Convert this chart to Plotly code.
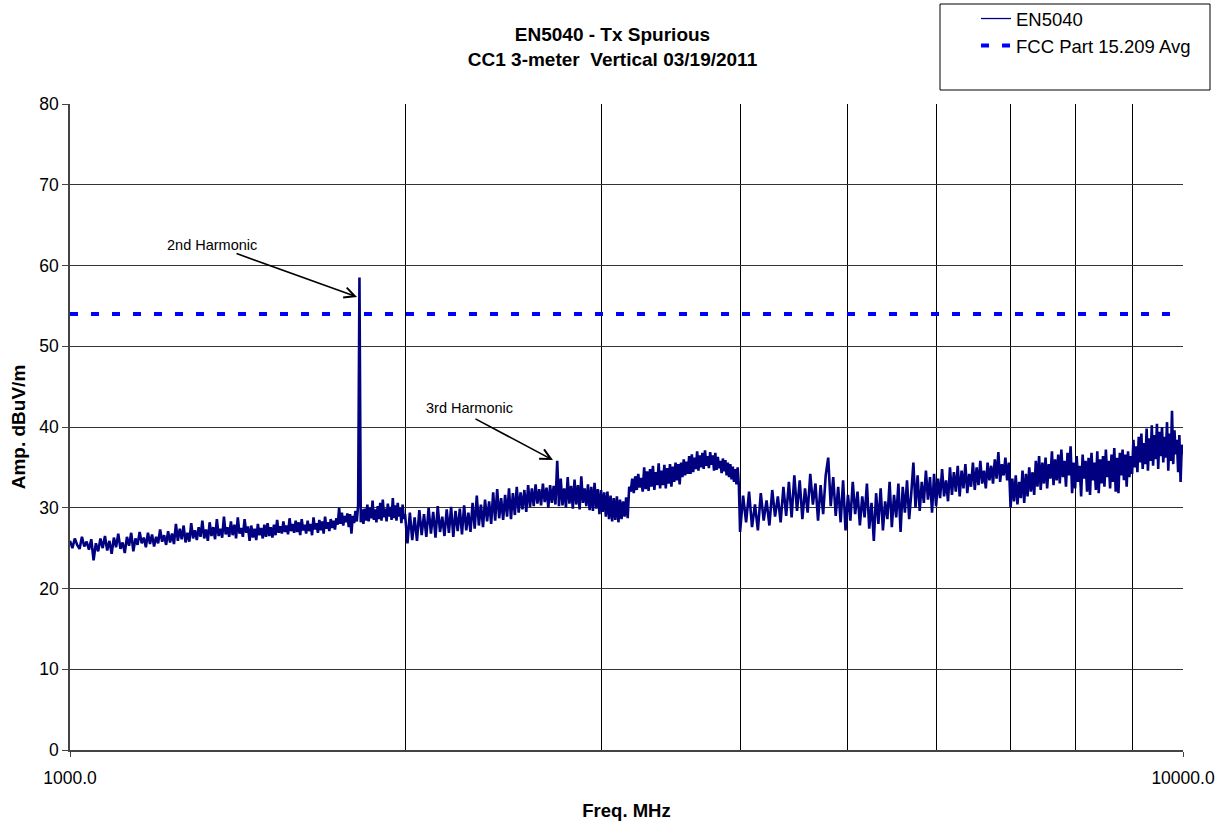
import math
import plotly.graph_objects as go

# ---------------- data ----------------
# Sweep 1: 1000 - 2000 MHz, 5 MHz steps
FREQ_A = [1000, 1005, 1010, 1015, 1020, 1025, 1030, 1035, 1040, 1045,
          1050, 1055, 1060, 1065, 1070, 1075, 1080, 1085, 1090, 1095,
          1100, 1105, 1110, 1115, 1120, 1125, 1130, 1135, 1140, 1145,
          1150, 1155, 1160, 1165, 1170, 1175, 1180, 1185, 1190, 1195,
          1200, 1205, 1210, 1215, 1220, 1225, 1230, 1235, 1240, 1245,
          1250, 1255, 1260, 1265, 1270, 1275, 1280, 1285, 1290, 1295,
          1300, 1305, 1310, 1315, 1320, 1325, 1330, 1335, 1340, 1345,
          1350, 1355, 1360, 1365, 1370, 1375, 1380, 1385, 1390, 1395,
          1400, 1405, 1410, 1415, 1420, 1425, 1430, 1435, 1440, 1445,
          1450, 1455, 1460, 1465, 1470, 1475, 1480, 1485, 1490, 1495,
          1500, 1505, 1510, 1515, 1520, 1525, 1530, 1535, 1540, 1545,
          1550, 1555, 1560, 1565, 1570, 1575, 1580, 1585, 1590, 1595,
          1600, 1605, 1610, 1615, 1620, 1625, 1630, 1635, 1640, 1645,
          1650, 1655, 1660, 1665, 1670, 1675, 1680, 1685, 1690, 1695,
          1700, 1705, 1710, 1715, 1720, 1725, 1730, 1735, 1740, 1745,
          1750, 1755, 1760, 1765, 1770, 1775, 1780, 1785, 1790, 1795,
          1800, 1805, 1810, 1815, 1820, 1825, 1830, 1835, 1840, 1845,
          1850, 1855, 1860, 1865, 1870, 1875, 1880, 1885, 1890, 1895,
          1900, 1905, 1910, 1915, 1920, 1925, 1930, 1935, 1940, 1945,
          1950, 1955, 1960, 1965, 1970, 1975, 1980, 1985, 1990, 1995,
          2000]
AMP_A = [25.9, 25.0, 26.2, 25.4, 24.9, 26.4, 25.2, 25.8, 24.8, 26.1,
         23.5, 25.6, 24.6, 26.2, 25.0, 26.5, 24.7, 25.9, 24.3, 26.3,
         25.1, 26.8, 24.9, 25.7, 24.4, 26.4, 25.3, 26.9, 24.6, 26.2,
         25.4, 27.0, 25.6, 26.3, 25.1, 26.9, 25.5, 26.7, 25.2, 26.4,
         25.6, 27.3, 25.8, 26.6, 25.4, 27.1, 25.7, 26.8, 25.5, 28.0,
         25.9, 27.4, 26.1, 27.8, 25.7, 26.9, 25.8, 28.1, 26.2, 27.2,
         26.0, 27.6, 26.4, 28.4, 26.2, 27.3, 25.9, 28.2, 26.5, 27.6,
         26.1, 28.6, 26.5, 27.4, 26.3, 28.9, 26.7, 27.6, 26.4, 28.3,
         26.6, 27.9, 26.2, 28.8, 26.8, 27.5, 26.4, 28.6, 26.9, 27.7,
         25.9, 27.8, 26.3, 27.4, 26.0, 28.0, 26.6, 27.5, 26.2, 27.9,
         26.4, 28.1, 26.5, 27.6, 26.3, 27.9, 26.6, 28.5, 26.9, 27.7,
         26.8, 28.3, 27.0, 27.8, 26.7, 28.7, 27.1, 28.0, 26.9, 28.4,
         27.0, 28.2, 26.6, 28.6, 27.2, 27.9, 26.8, 28.4, 27.1, 28.0,
         26.6, 28.8, 27.3, 28.1, 26.9, 28.5, 27.2, 28.3, 26.8, 28.9,
         27.4, 28.2, 27.1, 28.6, 27.5, 28.4, 27.3, 28.7, 27.9, 30.0,
         28.0, 29.4, 27.8, 29.0, 28.2, 29.3, 27.6, 29.2, 26.8, 29.0,
         28.1, 29.6, 28.3, 30.3, 58.5, 28.2, 29.8, 28.0, 29.9, 28.4,
         30.4, 28.3, 30.0, 28.7, 30.9, 28.5, 29.8, 28.2, 30.2, 28.6,
         30.6, 28.4, 31.0, 28.8, 29.9, 28.3, 30.5, 28.9, 30.1, 28.5,
         31.2, 28.7, 30.3, 28.4, 30.6, 28.9, 30.0, 28.1, 30.4, 28.6,
         29.2]

# Sweep 2: 2010 - 3990 MHz, 10 MHz steps
FREQ_B = [2010, 2020, 2030, 2040, 2050, 2060, 2070, 2080, 2090, 2100,
          2110, 2120, 2130, 2140, 2150, 2160, 2170, 2180, 2190, 2200,
          2210, 2220, 2230, 2240, 2250, 2260, 2270, 2280, 2290, 2300,
          2310, 2320, 2330, 2340, 2350, 2360, 2370, 2380, 2390, 2400,
          2410, 2420, 2430, 2440, 2450, 2460, 2470, 2480, 2490, 2500,
          2510, 2520, 2530, 2540, 2550, 2560, 2570, 2580, 2590, 2600,
          2610, 2620, 2630, 2640, 2650, 2660, 2670, 2680, 2690, 2700,
          2710, 2720, 2730, 2740, 2750, 2760, 2770, 2780, 2790, 2800,
          2810, 2820, 2830, 2840, 2850, 2860, 2870, 2880, 2890, 2900,
          2910, 2920, 2930, 2940, 2950, 2960, 2970, 2980, 2990, 3000,
          3010, 3020, 3030, 3040, 3050, 3060, 3070, 3080, 3090, 3100,
          3110, 3120, 3130, 3140, 3150, 3160, 3170, 3180, 3190, 3200,
          3210, 3220, 3230, 3240, 3250, 3260, 3270, 3280, 3290, 3300,
          3310, 3320, 3330, 3340, 3350, 3360, 3370, 3380, 3390, 3400,
          3410, 3420, 3430, 3440, 3450, 3460, 3470, 3480, 3490, 3500,
          3510, 3520, 3530, 3540, 3550, 3560, 3570, 3580, 3590, 3600,
          3610, 3620, 3630, 3640, 3650, 3660, 3670, 3680, 3690, 3700,
          3710, 3720, 3730, 3740, 3750, 3760, 3770, 3780, 3790, 3800,
          3810, 3820, 3830, 3840, 3850, 3860, 3870, 3880, 3890, 3900,
          3910, 3920, 3930, 3940, 3950, 3960, 3970, 3980, 3990]
AMP_B = [25.6, 29.4, 26.0, 28.8, 25.9, 29.7, 26.6, 29.2, 26.4, 30.0,
         26.8, 29.5, 26.3, 30.2, 27.0, 28.9, 26.5, 29.8, 26.9, 30.1,
         26.4, 29.6, 27.1, 29.9, 26.7, 30.3, 27.2, 29.4, 27.0, 30.6,
         27.4, 31.5, 27.8, 30.4, 27.6, 31.0, 28.3, 30.8, 28.0, 31.9,
         28.4, 32.3, 28.7, 31.2, 28.5, 31.6, 28.9, 32.4, 28.6, 31.8,
         29.1, 32.6, 29.4, 31.9, 29.8, 32.2, 29.5, 32.8, 30.1, 32.4,
         30.2, 32.9, 30.5, 32.3, 30.3, 33.0, 30.7, 32.5, 30.0, 32.8,
         30.6, 32.7, 30.4, 35.8, 30.2, 33.6, 30.3, 32.4, 30.0, 33.8,
         30.5, 32.7, 29.9, 33.5, 30.4, 32.8, 29.8, 33.9, 30.6, 32.4,
         30.2, 32.9, 29.7, 32.6, 29.6, 33.1, 29.9, 32.3, 29.2, 32.2,
         29.5, 31.9, 28.9, 32.0, 28.6, 31.5, 28.3, 31.2, 28.5, 31.4,
         28.2, 31.0, 28.6, 30.8, 28.9, 31.3, 28.7, 32.6, 32.0, 33.6,
         31.8, 33.9, 32.2, 34.2, 32.5, 33.7, 32.0, 35.0, 32.3, 34.5,
         32.1, 34.8, 32.6, 35.2, 32.2, 34.4, 32.8, 35.5, 32.4, 34.6,
         32.8, 35.3, 32.4, 34.9, 33.0, 35.4, 32.6, 35.1, 33.2, 35.6,
         33.4, 35.4, 32.9, 35.6, 33.8, 36.0, 34.0, 35.7, 34.2, 36.4,
         34.2, 36.6, 34.4, 36.2, 34.8, 37.0, 34.6, 36.5, 35.0, 36.8,
         34.8, 37.1, 35.2, 36.4, 34.9, 36.9, 35.3, 36.5, 34.6, 36.8,
         34.7, 36.3, 34.9, 35.8, 34.3, 36.1, 34.5, 35.9, 34.0, 35.6,
         33.8, 35.4, 33.5, 35.1, 33.2, 34.8, 32.9, 35.0, 32.7]

# Sweep 3: 4000 - 10000 MHz, 25 MHz steps
FREQ_C = [4000, 4025, 4050, 4075, 4100, 4125, 4150, 4175, 4200, 4225,
          4250, 4275, 4300, 4325, 4350, 4375, 4400, 4425, 4450, 4475,
          4500, 4525, 4550, 4575, 4600, 4625, 4650, 4675, 4700, 4725,
          4750, 4775, 4800, 4825, 4850, 4875, 4900, 4925, 4950, 4975,
          5000, 5025, 5050, 5075, 5100, 5125, 5150, 5175, 5200, 5225,
          5250, 5275, 5300, 5325, 5350, 5375, 5400, 5425, 5450, 5475,
          5500, 5525, 5550, 5575, 5600, 5625, 5650, 5675, 5700, 5725,
          5750, 5775, 5800, 5825, 5850, 5875, 5900, 5925, 5950, 5975,
          6000, 6025, 6050, 6075, 6100, 6125, 6150, 6175, 6200, 6225,
          6250, 6275, 6300, 6325, 6350, 6375, 6400, 6425, 6450, 6475,
          6500, 6525, 6550, 6575, 6600, 6625, 6650, 6675, 6700, 6725,
          6750, 6775, 6800, 6825, 6850, 6875, 6900, 6925, 6950, 6975,
          7000, 7025, 7050, 7075, 7100, 7125, 7150, 7175, 7200, 7225,
          7250, 7275, 7300, 7325, 7350, 7375, 7400, 7425, 7450, 7475,
          7500, 7525, 7550, 7575, 7600, 7625, 7650, 7675, 7700, 7725,
          7750, 7775, 7800, 7825, 7850, 7875, 7900, 7925, 7950, 7975,
          8000, 8025, 8050, 8075, 8100, 8125, 8150, 8175, 8200, 8225,
          8250, 8275, 8300, 8325, 8350, 8375, 8400, 8425, 8450, 8475,
          8500, 8525, 8550, 8575, 8600, 8625, 8650, 8675, 8700, 8725,
          8750, 8775, 8800, 8825, 8850, 8875, 8900, 8925, 8950, 8975,
          9000, 9025, 9050, 9075, 9100, 9125, 9150, 9175, 9200, 9225,
          9250, 9275, 9300, 9325, 9350, 9375, 9400, 9425, 9450, 9475,
          9500, 9525, 9550, 9575, 9600, 9625, 9650, 9675, 9700, 9725,
          9750, 9775, 9800, 9825, 9850, 9875, 9900, 9925, 9950, 9975,
          10000]
AMP_C = [27.0, 31.5, 28.2, 32.0, 27.6, 30.4, 27.2, 31.8, 28.4, 30.9,
         27.8, 32.2, 28.9, 31.4, 28.2, 32.6, 29.0, 33.2, 28.8, 34.0,
         29.6, 33.4, 28.6, 32.4, 29.4, 34.2, 30.4, 33.0, 28.4, 32.8,
         29.2, 34.0, 36.2, 30.2, 33.8, 29.0, 32.6, 28.2, 33.4, 27.2,
         31.6, 28.4, 33.2, 29.2, 32.0, 27.8, 31.4, 28.8, 33.0, 27.4,
         30.6, 25.9, 31.8, 28.0, 32.4, 27.2, 30.8, 28.6, 33.2, 27.6,
         31.6, 28.8, 33.0, 27.0, 32.6, 29.4, 33.4, 28.6, 31.8, 35.6,
         30.0, 34.0, 29.6, 33.2, 30.6, 34.6, 31.0, 33.8, 29.4, 34.2,
         30.2, 33.6, 31.2, 34.8, 31.4, 33.4, 30.8, 35.0, 31.6, 34.4,
         32.0, 35.2, 31.4, 34.6, 32.4, 35.4, 31.8, 34.2, 32.6, 35.6,
         32.2, 35.0, 32.8, 35.8, 33.0, 34.6, 32.4, 35.6, 33.4, 35.2,
         33.0, 36.0, 33.6, 36.9, 33.2, 35.4, 34.0, 36.2, 33.4, 35.6,
         30.0, 33.6, 30.8, 34.0, 30.4, 33.2, 31.2, 34.6, 30.6, 34.2,
         31.4, 35.0, 32.0, 34.4, 31.6, 35.8, 32.6, 36.4, 32.2, 35.6,
         33.0, 36.2, 32.4, 35.4, 33.6, 37.0, 32.8, 36.0, 33.4, 36.6,
         33.0, 37.2, 33.8, 35.8, 32.6, 36.8, 34.0, 37.6, 31.8, 35.6,
         32.4, 36.4, 33.2, 35.2, 31.4, 36.6, 33.6, 35.8, 32.0, 36.2,
         31.6, 36.8, 33.4, 35.6, 32.2, 37.0, 31.8, 36.0, 33.0, 36.4,
         32.6, 37.2, 33.8, 35.8, 32.4, 36.6, 33.2, 37.4, 32.0, 36.2,
         31.8, 36.8, 34.0, 37.2, 33.4, 36.6, 32.6, 37.0, 33.8, 36.4,
         34.2, 38.4, 35.0, 37.6, 34.4, 38.8, 35.6, 39.2, 34.8, 38.0,
         35.4, 39.8, 34.6, 38.6, 35.8, 40.2, 35.2, 39.0, 36.0, 40.4,
         34.8, 39.4, 36.4, 40.0, 35.6, 38.8, 36.2, 40.6, 34.6, 39.2,
         35.8, 42.0, 35.4, 39.6, 36.6, 38.4, 34.4, 39.0, 33.2, 37.8,
         36.6]

LIMIT_FREQ = [1000, 10000]
LIMIT_AMP = [54, 54]

GRID_FREQS = [2000, 3000, 4000, 5000, 6000, 7000, 8000, 9000]
X_TICKS = [1000, 10000]
X_TICK_TEXT = ["1000.0", "10000.0"]
Y_TICKS = [0, 10, 20, 30, 40, 50, 60, 70, 80]

TITLE = "EN5040 - Tx Spurious<br>CC1 3-meter  Vertical 03/19/2011"
SERIES_NAME = "EN5040"
LIMIT_NAME = "FCC Part 15.209 Avg"

# annotation anchors: (label, label freq, label amp), (arrow head freq, arrow head amp)
HARM2_LABEL = ("2nd Harmonic", 1341, 62.5)
HARM2_HEAD = (1811, 56.1)
HARM3_LABEL = ("3rd Harmonic", 2283, 42.35)
HARM3_HEAD = (2716, 35.9)

# ---------------- figure ----------------
freq = FREQ_A + FREQ_B + FREQ_C
amp = AMP_A + AMP_B + AMP_C

FONT = "Liberation Sans, Arial, sans-serif"
W, H = 1225, 821
NAVY = "#000080"

fig = go.Figure()
fig.add_trace(go.Scatter(x=freq, y=amp, mode="lines", name=SERIES_NAME,
                         showlegend=False, legendgroup="s",
                         line=dict(color=NAVY, width=2.6)))
# legend entry for the measured series (thin line sample like the reference)
fig.add_trace(go.Scatter(x=[None], y=[None], mode="lines", name=SERIES_NAME,
                         legendgroup="s", line=dict(color=NAVY, width=1.3)))
fig.add_trace(go.Scatter(x=LIMIT_FREQ, y=LIMIT_AMP, mode="lines", name=LIMIT_NAME,
                         line=dict(color="#0000FF", width=4, dash="8px,13px")))

fig.update_layout(
    width=W, height=H,
    margin=dict(l=70, r=42, t=104, b=71, autoexpand=False),
    paper_bgcolor="white", plot_bgcolor="white",
    font=dict(family=FONT, color="black", size=17),
    title=dict(text="<b>" + TITLE + "</b>", x=0.5, xref="container",
               y=1 - 41 / H, yanchor="middle", font=dict(size=19, family=FONT)),
    showlegend=True,
    legend=dict(x=976 / W, y=1 + 1 / H, xref="container", yref="container",
                xanchor="left", yanchor="top",
                bgcolor="rgba(0,0,0,0)", borderwidth=0,
                font=dict(size=18.5, family=FONT), tracegroupgap=0),
    # legend frame, sized like the reference
    shapes=[dict(type="rect", xref="paper", yref="paper",
                 x0=(940 - 70) / 1113, x1=(1210 - 70) / 1113,
                 y0=(750 - 90) / 646, y1=(750 - 4) / 646,
                 line=dict(color="black", width=1), fillcolor="rgba(0,0,0,0)",
                 layer="below")],
)

fig.update_xaxes(type="log", range=[3, 4],
                 tickvals=X_TICKS, ticktext=X_TICK_TEXT,
                 ticks="outside", ticklen=5, tickcolor="#444",
                 ticklabelstandoff=6,
                 showgrid=True, gridcolor="#555", gridwidth=1,
                 minor=dict(tickvals=GRID_FREQS, showgrid=True, gridcolor="black",
                            gridwidth=1, ticks=""),
                 showline=True, linecolor="#444", linewidth=1.5,
                 zeroline=False, tickfont=dict(size=17.5),
                 title=dict(text="<b>Freq. MHz</b>", font=dict(size=18.5), standoff=17))

fig.update_yaxes(range=[0, 80], tickvals=Y_TICKS,
                 ticks="outside", ticklen=6, tickcolor="#444",
                 showgrid=True, gridcolor="#333", gridwidth=1,
                 showline=True, linecolor="#444", linewidth=1.5,
                 zeroline=False, tickfont=dict(size=17.5),
                 title=dict(text="<b>Amp. dBuV/m</b>", font=dict(size=19), standoff=9))

# annotations (log axis: annotation x is given in log10 units)
for (label, lf, la), (hf, ha), (axp, ayp) in [
        (HARM2_LABEL, HARM2_HEAD, (-122, -44)),
        (HARM3_LABEL, HARM3_HEAD, (-79, -42))]:
    fig.add_annotation(x=math.log10(lf), y=la, xref="x", yref="y", text=label,
                       showarrow=False, font=dict(size=14.5, family=FONT))
    fig.add_annotation(x=math.log10(hf), y=ha, xref="x", yref="y", text="",
                       showarrow=True, arrowhead=5, arrowsize=1.3, arrowwidth=1.6,
                       arrowcolor="black", ax=axp, ay=ayp)

fig.write_html("out.html")
